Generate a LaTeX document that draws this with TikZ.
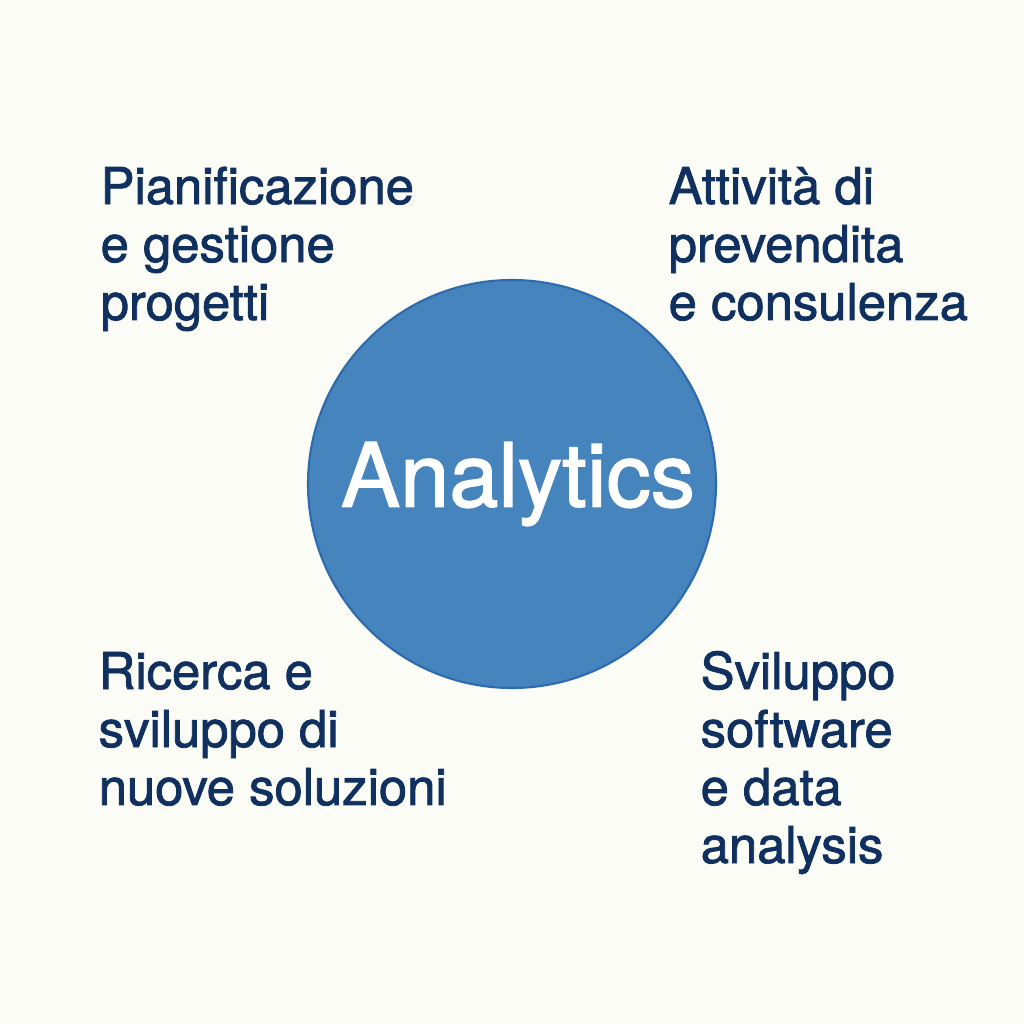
\documentclass[tikz,border=0pt]{standalone}
\usepackage{fontspec}
\setmainfont{TeX Gyre Heros}[FakeBold=1.6]
\usepackage{xcolor}
\usetikzlibrary{positioning, calc}
\definecolor{PaperA}{HTML}{FCFCF7}
\definecolor{NavyA}{HTML}{10305F}
\definecolor{BlueA}{HTML}{2E6BAE}
\definecolor{BlueB}{HTML}{4684BE}
\tikzset{
  hubc/.style={circle, draw=BlueA, fill=BlueB, line width=0.6pt,
               minimum size=4.08cm, inner sep=0pt, text=white,
               font=\fontsize{25.2}{28}\selectfont},
  area/.style={align=left, inner sep=0pt, text=NavyA, anchor=base west,
               font=\fontsize{14.45}{16.5}\selectfont}
}

\begin{document}
\begin{tikzpicture}

  % ----- Page and background -----
  \fill[PaperA] (0,0) rectangle (10.24,10.24);
  \useasboundingbox (0,0) rectangle (10.24,10.24);

  % ----- Central circle -----
  \node[hubc] (hub) at (5.12,5.40) {\hspace*{0.12cm}Analytics};

  % ----- Four areas round the circle (placed by last baseline) -----
  \node[area] (plan) at (1.00,7.04)
    {Pianificazione\\e gestione\\progetti};

  \node[area] (presale) at (6.68,7.04)
    {Attività di\\prevendita\\e consulenza};

  \node[area] (research) at (0.98,2.19)
    {Ricerca e\\sviluppo di\\nuove soluzioni};

  \node[area] (devel) at (7.00,1.61)
    {Sviluppo\\software\\e data\\analysis};

\end{tikzpicture}
\end{document}
